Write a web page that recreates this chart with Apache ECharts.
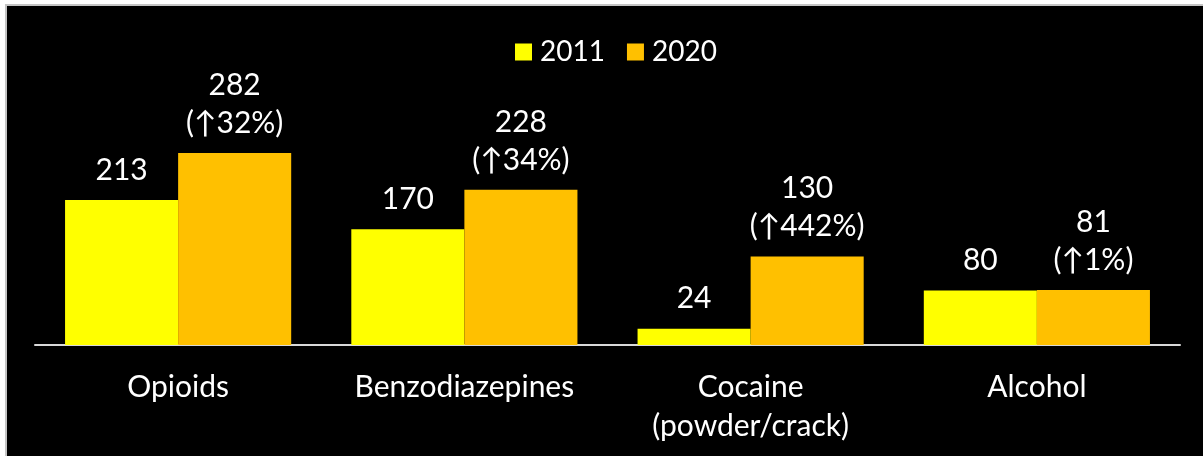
<!DOCTYPE html>
<html><head><meta charset="utf-8">
<script src="https://cdn.jsdelivr.net/npm/echarts@6/dist/echarts.min.js"></script>
<style>
html,body{margin:0;padding:0;background:#fff;width:1203px;height:456px;overflow:hidden;}
#frame{position:absolute;left:5px;top:4px;width:1198px;height:452px;border-left:2px solid #c4c4c4;border-top:2px solid #c4c4c4;background:#000;}
#chart{width:1196px;height:450px;}
</style></head>
<body><div id="frame"><div id="chart"></div></div>
<script>
const categories = ['Opioids', 'Benzodiazepines', 'Cocaine\n(powder/crack)', 'Alcohol'];
const values2011 = [213, 170, 24, 80];
const values2020 = [282, 228, 130, 81];
const changes2020 = ['↑32%', '↑34%', '↑442%', '↑1%'];
const seriesNames = ['2011', '2020'];

const FONT = 'Lato';
const chart = echarts.init(document.getElementById('chart'), null, {renderer: 'canvas'});
chart.setOption({
  backgroundColor: '#000',
  animation: false,
  textStyle: {fontFamily: FONT},
  legend: {
    data: seriesNames,
    top: 27, left: 503,
    itemWidth: 17, itemHeight: 17, itemGap: 22,
    icon: 'rect',
    textStyle: {color: '#fff', fontSize: 28, fontFamily: FONT, padding: [0, 0, 0, 3]}
  },
  grid: {left: 28, right: 23, top: 94, bottom: 111},
  xAxis: {
    type: 'category', data: categories,
    axisLine: {lineStyle: {color: '#d9d9d9', width: 2}},
    axisTick: {show: false},
    axisLabel: {color: '#fff', fontSize: 30, lineHeight: 39, margin: 23, fontFamily: FONT, interval: 0}
  },
  yAxis: {type: 'value', min: 0, max: 360, show: false, splitLine: {show: false}},
  series: [
    {
      name: seriesNames[0], type: 'bar', data: values2011,
      barGap: '0%', barCategoryGap: '21%',
      itemStyle: {color: '#FFFF00'},
      label: {show: true, position: 'top', distance: 11, color: '#fff', fontSize: 30, lineHeight: 38, fontFamily: FONT}
    },
    {
      name: seriesNames[1], type: 'bar', data: values2020,
      barGap: '0%', barCategoryGap: '21%',
      itemStyle: {color: '#FFC000'},
      label: {show: true, position: 'top', distance: 11, color: '#fff', fontSize: 30, lineHeight: 38, fontFamily: FONT,
        formatter: p => p.value + '\n(' + changes2020[p.dataIndex] + ')'}
    }
  ]
});
</script></body></html>
